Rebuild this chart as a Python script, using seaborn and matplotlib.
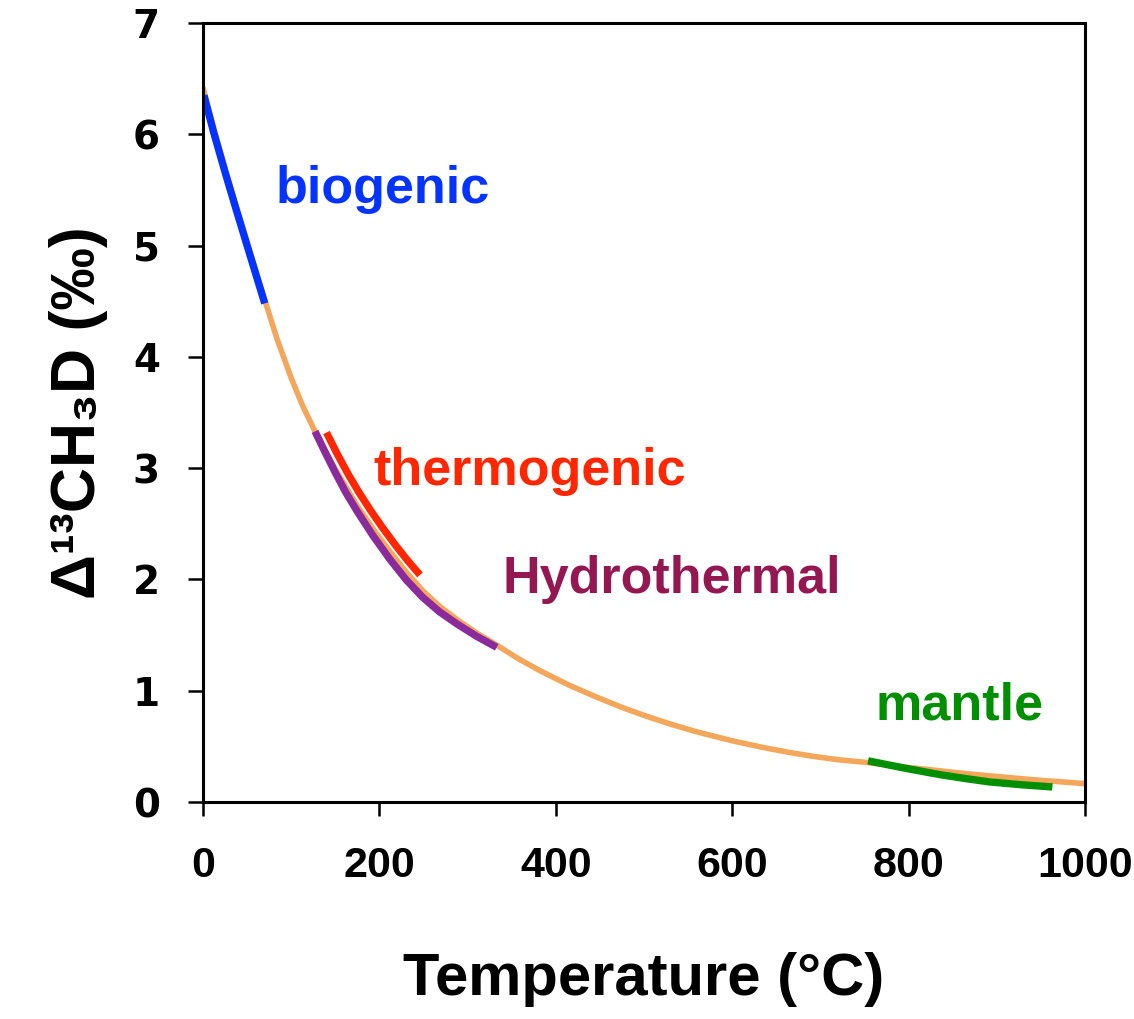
import matplotlib
matplotlib.use("Agg")
import matplotlib.pyplot as plt
import seaborn as sns

# ---- data ----
curve_T = [0, 12, 25, 37, 50, 60, 70, 84, 100, 113, 127, 150, 175, 195,
           212, 230, 249, 268, 288, 310, 333, 357, 382, 415, 447, 475, 503,
           530, 560, 600, 635, 665, 692, 720, 753, 795, 836, 865, 892, 920,
           949, 975, 1000]
curve_v = [6.42, 6.06, 5.69, 5.37, 5.03, 4.77, 4.51, 4.16, 3.81, 3.56, 3.33,
           2.99, 2.66, 2.43, 2.25, 2.07, 1.90, 1.76, 1.64, 1.52, 1.41, 1.29,
           1.18, 1.05, 0.94, 0.85, 0.77, 0.70, 0.63, 0.55, 0.49, 0.445, 0.41,
           0.38, 0.355, 0.315, 0.28, 0.255, 0.235, 0.215, 0.195, 0.18, 0.165]

bio_T = [1, 12, 25, 37, 50, 60, 70]
bio_v = [6.35, 6.02, 5.66, 5.34, 5.00, 4.74, 4.48]

thermo_T = [140, 152, 165, 177, 190, 204, 219, 232, 246]
thermo_v = [3.32, 3.13, 2.94, 2.78, 2.62, 2.46, 2.30, 2.17, 2.04]

hydro_T = [127, 138, 150, 162, 175, 193, 212, 230, 249, 268, 288, 310, 333]
hydro_v = [3.33, 3.15, 2.96, 2.78, 2.61, 2.39, 2.18, 2.00, 1.84, 1.71, 1.60,
           1.49, 1.39]

mantle_T = [754, 795, 836, 865, 892, 928, 963]
mantle_v = [0.37, 0.305, 0.245, 0.21, 0.18, 0.155, 0.135]

labels = ["biogenic", "thermogenic", "Hydrothermal", "mantle"]
label_T = [82, 193, 340, 762]
label_v = [5.38, 2.85, 1.88, 0.74]
label_colors = ["#0433FF", "#FF2600", "#941751", "#008F00"]

x_ticks = [0, 200, 400, 600, 800, 1000]
y_ticks = [0, 1, 2, 3, 4, 5, 6, 7]

# ---- style ----
sns.set_style("white")
plt.rcParams["font.family"] = ["Liberation Sans", "DejaVu Sans"]
plt.rcParams["text.color"] = "black"
plt.rcParams["axes.labelcolor"] = "black"

fig = plt.figure(figsize=(11.34, 10.19), dpi=100)
ax = fig.add_axes([203 / 1134, 1 - 802 / 1019, (1085 - 203) / 1134, (802 - 23) / 1019])

line_kw = dict(sort=False, estimator=None, solid_capstyle="butt",
               solid_joinstyle="round")
sns.lineplot(x=curve_T, y=curve_v, ax=ax, color="#F4A65B", linewidth=4.0, **line_kw)
sns.lineplot(x=bio_T, y=bio_v, ax=ax, color="#0433FF", linewidth=5.3, **line_kw)
sns.lineplot(x=hydro_T, y=hydro_v, ax=ax, color="#8B2A9C", linewidth=5.3, **line_kw)
sns.lineplot(x=thermo_T, y=thermo_v, ax=ax, color="#FF2600", linewidth=5.3, **line_kw)
sns.lineplot(x=mantle_T, y=mantle_v, ax=ax, color="#008F00", linewidth=5.3, **line_kw)

for txt, t, v, c in zip(labels, label_T, label_v, label_colors):
    ax.text(t, v, txt, color=c, fontsize=37.5, fontweight="bold",
            ha="left", va="baseline", family=["Liberation Sans", "DejaVu Sans"])

ax.set_xlim(0, 1000)
ax.set_ylim(0, 7)
ax.set_xticks(x_ticks)
ax.set_yticks(y_ticks)
ax.set_xticklabels([str(t) for t in x_ticks], fontsize=31, fontweight="bold",
                   family=["Liberation Sans", "DejaVu Sans"], color="black")
ax.set_yticklabels([str(t) for t in y_ticks], fontsize=28, fontweight="bold",
                   family=["DejaVu Sans"], color="black")

for s in ax.spines.values():
    s.set_visible(True)
    s.set_color("black")
    s.set_linewidth(2.2)

ax.tick_params(axis="x", direction="out", length=10, width=1.8, pad=22,
               bottom=True, top=False, colors="black")
ax.tick_params(axis="y", direction="out", length=11, width=1.8, pad=20,
               left=True, right=False, colors="black")

ax.set_xlabel("Temperature (°C)", fontsize=43, fontweight="bold", color="black",
              family=["Liberation Sans", "DejaVu Sans"])
ax.set_ylabel("Δ¹³CH₃D (‰)", fontsize=45, fontweight="bold", color="black",
              family=["Liberation Sans", "DejaVu Sans"])
ax.xaxis.set_label_coords(0.5, -0.192)
ax.yaxis.set_label_coords(-0.108, 0.5)

ax.grid(False)
ax.set_facecolor("white")

fig.savefig("out.png", dpi=100, facecolor="white")
